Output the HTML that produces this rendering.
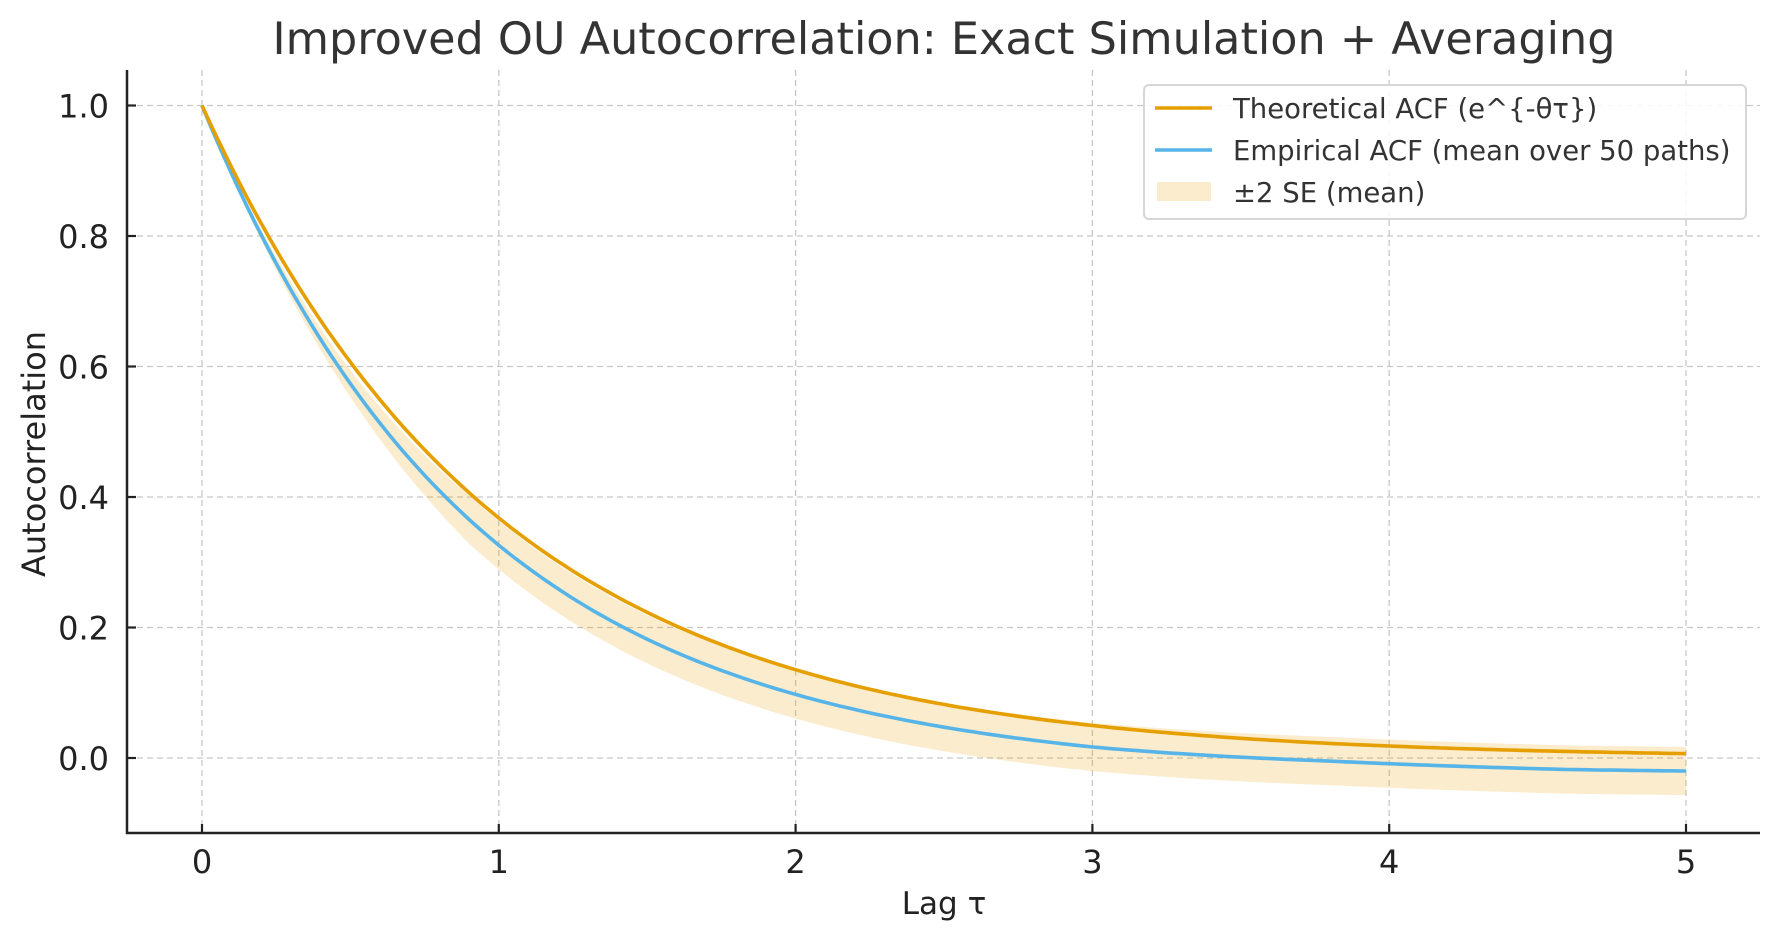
<!DOCTYPE html>
<html><head><meta charset="utf-8"><style>
html,body{margin:0;padding:0;background:#fff;}
svg text{font-family:"DejaVu Sans","Liberation Sans",sans-serif;}
</style></head><body>
<svg id="s" width="1779" height="940" xmlns="http://www.w3.org/2000/svg">
<rect width="1779" height="940" fill="#fff"/>
<g id="grid" stroke="#c8c8c8" stroke-width="1.3" stroke-dasharray="6,4"></g>
<path id="band" fill="#E69F00" fill-opacity="0.2" stroke="none"/>
<path id="emp" fill="none" stroke="#56B4E9" stroke-width="3.6"/>
<path id="th" fill="none" stroke="#E69F00" stroke-width="3.6"/>
<g id="axes" stroke="#222" stroke-width="2.5" fill="none">
<line x1="127" y1="70" x2="127" y2="834"/>
<line x1="126" y1="833" x2="1760" y2="833"/>
</g>
<g id="ticks" stroke="#222" stroke-width="2.2"></g>
<g id="labels" fill="#222" font-size="32"></g>
<text x="944" y="54" text-anchor="middle" font-size="44.5" fill="#333">Improved OU Autocorrelation: Exact Simulation + Averaging</text>
<text x="944" y="914" text-anchor="middle" font-size="31" fill="#222">Lag τ</text>
<text transform="translate(45,454) rotate(-90)" text-anchor="middle" font-size="32" fill="#222">Autocorrelation</text>
<rect x="1144" y="85" width="602" height="134" rx="5" fill="#fff" fill-opacity="0.85" stroke="#d6d6d6" stroke-width="2"/>
<line x1="1155" y1="108" x2="1212" y2="108" stroke="#E69F00" stroke-width="3.6"/>
<line x1="1155" y1="150" x2="1212" y2="150" stroke="#56B4E9" stroke-width="3.6"/>
<rect x="1157" y="182" width="54" height="19" fill="#E69F00" fill-opacity="0.2"/>
<g font-size="27.5" fill="#333">
<text x="1233" y="118">Theoretical ACF (e^{-θτ})</text>
<text x="1233" y="160">Empirical ACF (mean over 50 paths)</text>
<text x="1233" y="202">±2 SE (mean)</text>
</g>
</svg>
<script>
const X=x=>202+x*296.8, Y=y=>758-y*652.5;
const g=document.getElementById('grid'),t=document.getElementById('ticks'),l=document.getElementById('labels');
const ns='http://www.w3.org/2000/svg';
function el(p,n,a,txt){const e=document.createElementNS(ns,n);for(const k in a)e.setAttribute(k,a[k]);if(txt!==undefined)e.textContent=txt;p.appendChild(e);}
for(let i=0;i<=5;i++){const x=X(i);el(g,'line',{x1:x,y1:70,x2:x,y2:833});el(t,'line',{x1:x,y1:833,x2:x,y2:824});el(l,'text',{x:x,y:873,'text-anchor':'middle'},String(i));}
for(let i=0;i<=5;i++){const v=i*0.2,y=Y(v);el(g,'line',{x1:127,y1:y,x2:1760,y2:y});el(t,'line',{x1:127,y1:y,x2:136,y2:y});el(l,'text',{x:109,y:y+12,'text-anchor':'end'},v.toFixed(1));}
let th='',em='',up=[],lo=[];
const emp=x=>Math.exp(-1.1*x)-0.02*Math.min(x/3,1)-0.004*Math.max(0,Math.min((x-3.8)/0.8,1));
for(let i=0;i<=200;i++){const x=i*5/200;const a=Math.exp(-x),b=emp(x);
th+=(i?'L':'M')+X(x).toFixed(1)+','+Y(a).toFixed(1);
em+=(i?'L':'M')+X(x).toFixed(1)+','+Y(b).toFixed(1);
const h=0.037*Math.min(x/0.9,1);up.push([X(x),Y(b+h)]);lo.push([X(x),Y(b-h)]);}
document.getElementById('th').setAttribute('d',th);
document.getElementById('emp').setAttribute('d',em);
let bd='M'+up.map(p=>p[0].toFixed(1)+','+p[1].toFixed(1)).join('L')+'L'+lo.reverse().map(p=>p[0].toFixed(1)+','+p[1].toFixed(1)).join('L')+'Z';
document.getElementById('band').setAttribute('d',bd);
</script>
</body></html>
